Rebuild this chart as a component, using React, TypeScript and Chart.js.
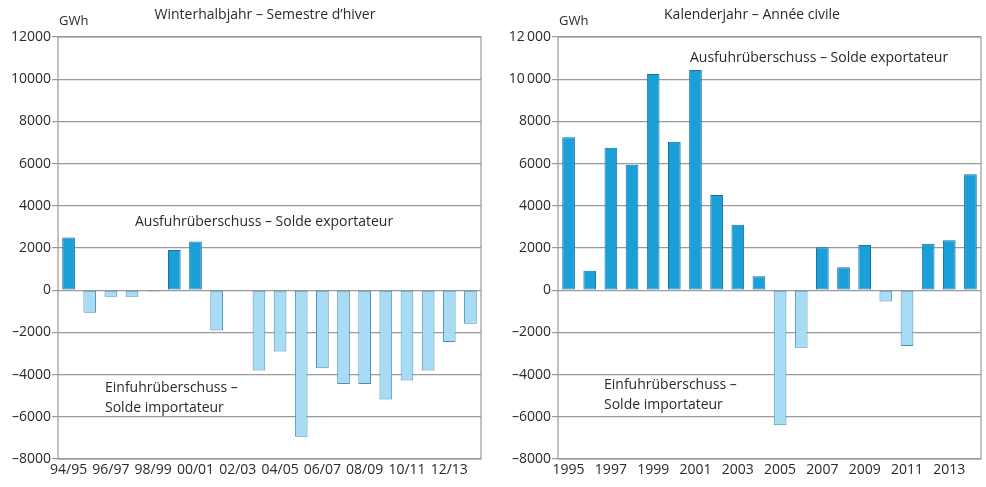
import React, { useEffect, useRef } from "react";
import { Chart, registerables } from "chart.js";

Chart.register(...registerables);

const winterLabels = ["94/95","95/96","96/97","97/98","98/99","99/00","00/01","01/02","02/03","03/04","04/05","05/06","06/07","07/08","08/09","09/10","10/11","11/12","12/13","13/14"];
const winterValues = [2500,-1070,-310,-310,-60,1900,2310,-1910,-40,-3800,-2900,-6950,-3700,-4450,-4440,-5180,-4280,-3800,-2460,-1590];

const yearLabels = ["1995","1996","1997","1998","1999","2000","2001","2002","2003","2004","2005","2006","2007","2008","2009","2010","2011","2012","2013","2014"];
const yearValues = [7250,920,6750,5950,10250,7040,10440,4510,3100,660,-6400,-2730,2030,1090,2140,-540,-2640,2200,2370,5490];

const yMin = -8000;
const yMax = 12000;
const yStep = 2000;

const FONT = "'Open Sans', sans-serif";
const DARK = "#1a9fd9";
const DARK_BORDER = "#16729f";
const LIGHT = "#a8dcf5";
const LIGHT_BORDER = "#4a90b5";
const TEXT = "#2a2a2a";

const WINTER_TITLE = "Winterhalbjahr \u2013 Semestre d\u2019hiver";
const YEAR_TITLE = "Kalenderjahr \u2013 Ann\u00e9e civile";
const EXPORT_TEXT = "Ausfuhr\u00fcberschuss \u2013 Solde exportateur";
const IMPORT_TEXT_1 = "Einfuhr\u00fcberschuss \u2013";
const IMPORT_TEXT_2 = "Solde importateur";

type PanelProps = {
  labels: string[];
  values: number[];
  title: string;
  titleX: number;
  yAxisWidth: number;
  rightPad: number;
  thinSpace: boolean;
  exportX: number;
  exportY: number;
  importX: number;
  importY: number;
};

function fmt(v: number, thin: boolean) {
  const abs = Math.abs(v);
  let s = String(abs);
  if (thin && abs >= 10000) s = s.slice(0, s.length - 3) + "\u2009" + s.slice(s.length - 3);
  return (v < 0 ? "\u2013" : "") + s;
}

function Panel(p: PanelProps) {
  const ref = useRef<HTMLCanvasElement | null>(null);
  useEffect(() => {
    if (!ref.current) return;
    const textPlugin = {
      id: "texts",
      afterDraw(chart: any) {
        const ctx = chart.ctx as CanvasRenderingContext2D;
        const a = chart.chartArea;
        ctx.save();
        ctx.strokeStyle = "#9a9a9a";
        ctx.lineWidth = 1.2;
        ctx.strokeRect(a.left, a.top, a.right - a.left, a.bottom - a.top);
        ctx.fillStyle = TEXT;
        ctx.font = `14px ${FONT}`;
        ctx.textBaseline = "middle";
        ctx.textAlign = "center";
        ctx.fillText(p.title, p.titleX, 15);
        ctx.textAlign = "left";
        ctx.font = `13px ${FONT}`;
        ctx.fillText("GWh", a.left + 1, 21);
        ctx.font = `14px ${FONT}`;
        ctx.fillText(EXPORT_TEXT, a.left + p.exportX, p.exportY);
        ctx.fillText(IMPORT_TEXT_1, a.left + p.importX, p.importY);
        ctx.fillText(IMPORT_TEXT_2, a.left + p.importX, p.importY + 20);
        ctx.restore();
      },
    };
    const chart = new Chart(ref.current, {
      type: "bar",
      data: {
        labels: p.labels,
        datasets: [
          {
            data: p.values,
            backgroundColor: p.values.map((v) => (v >= 0 ? DARK : LIGHT)),
            borderColor: p.values.map((v) => (v >= 0 ? DARK_BORDER : LIGHT_BORDER)),
            borderWidth: 1,
            borderSkipped: false,
            barPercentage: 0.6,
            categoryPercentage: 1,
          },
        ],
      },
      options: {
        responsive: false,
        animation: false,
        layout: { padding: { top: 37, right: p.rightPad, left: 0, bottom: 0 } },
        plugins: { legend: { display: false }, tooltip: { enabled: false }, title: { display: false } },
        scales: {
          x: {
            grid: { display: false, drawTicks: false },
            border: { display: false },
            ticks: {
              autoSkip: false,
              maxRotation: 0,
              minRotation: 0,
              padding: 3,
              color: TEXT,
              font: { family: FONT, size: 14 },
              callback: (_v: any, i: number) => (i % 2 === 0 ? p.labels[i] : ""),
            },
            afterFit: (s: any) => { s.height = 28; },
          },
          y: {
            min: yMin,
            max: yMax,
            grid: { color: "#9a9a9a", lineWidth: 1.2, tickLength: 6 },
            border: { display: false },
            ticks: {
              stepSize: yStep,
              padding: 1,
              color: TEXT,
              font: { family: FONT, size: 14 },
              callback: (v: any) => fmt(Number(v), p.thinSpace),
            },
            afterFit: (s: any) => { s.width = p.yAxisWidth; },
          },
        },
      },
      plugins: [textPlugin],
    } as any);
    return () => chart.destroy();
  }, []);
  return <canvas ref={ref} width={493} height={487} style={{ display: "block" }} />;
}

export default function App() {
  return (
    <div style={{ position: "absolute", left: 0, top: 0, width: 986, height: 487, background: "#fff", display: "flex" }}>
      <Panel
        labels={winterLabels}
        values={winterValues}
        title={WINTER_TITLE}
        titleX={265}
        yAxisWidth={58}
        rightPad={12}
        thinSpace={false}
        exportX={77}
        exportY={222}
        importX={47}
        importY={388}
      />
      <Panel
        labels={yearLabels}
        values={yearValues}
        title={YEAR_TITLE}
        titleX={259}
        yAxisWidth={65}
        rightPad={5}
        thinSpace={true}
        exportX={132}
        exportY={58}
        importX={46}
        importY={385}
      />
    </div>
  );
}
